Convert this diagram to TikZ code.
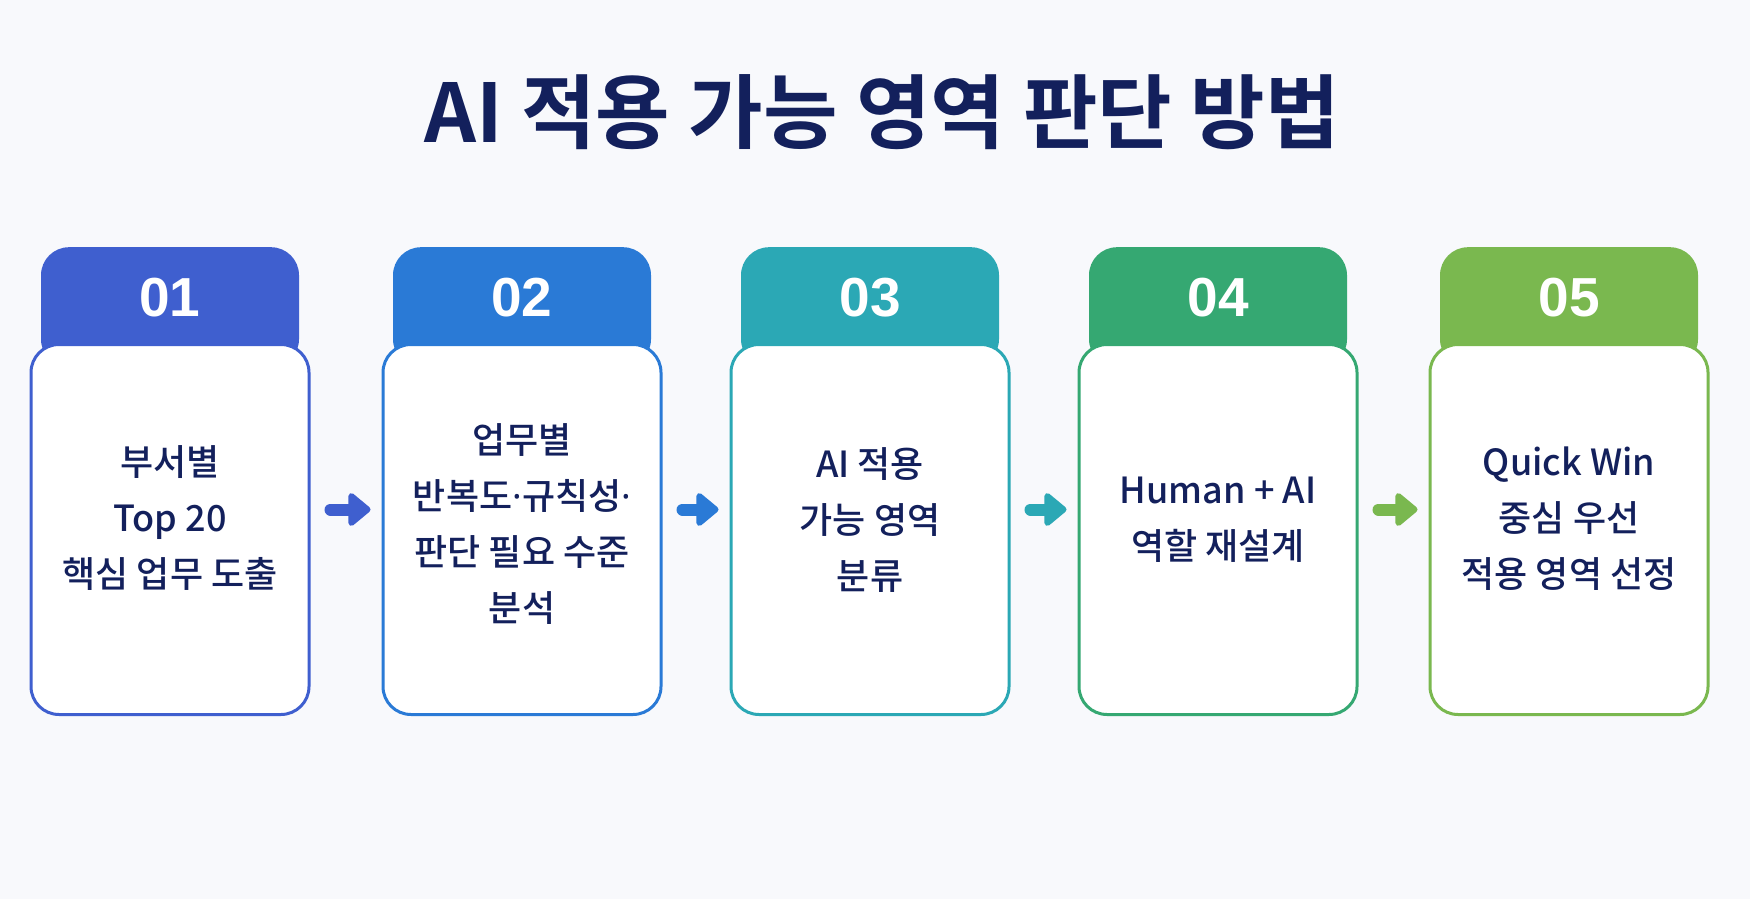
\documentclass[tikz,border=0pt]{standalone}
\usepackage{fontspec}
\setmainfont{Noto Sans CJK KR}[UprightFont={* Medium},BoldFont={* Bold}]
\newfontfamily\latinf{Noto Sans}
\newfontfamily\numf{Liberation Sans}
\usetikzlibrary{arrows.meta,calc}
\definecolor{bgc}{HTML}{F8F9FC}
\definecolor{navy}{HTML}{13205C}
\definecolor{cA}{HTML}{3F5FCF}
\definecolor{cB}{HTML}{2A7AD6}
\definecolor{cC}{HTML}{2BA8B5}
\definecolor{cD}{HTML}{35A872}
\definecolor{cE}{HTML}{7AB84F}
\newcommand{\mdot}{{\latinf\bfseries ·}}
\tikzset{
  tabbox/.style={fill=#1, draw=none, rounded corners=28pt, minimum width=258pt, minimum height=120pt, anchor=north, inner sep=0pt},
  numtext/.style={text=white, font=\numf\bfseries\fontsize{55}{60}\selectfont},
  cardbox/.style={draw=#1, line width=3pt, fill=white, rounded corners=28pt, minimum width=278pt, minimum height=370pt, anchor=north, inner sep=0pt},
  cardtext/.style={text=navy, align=center, font=\fontsize{36}{56}\selectfont},
  flowarrow/.style={draw=#1, line width=12pt, line cap=round, -{Triangle[width=38pt,length=24pt,round]}}
}
\begin{document}
\begin{tikzpicture}[x=1pt,y=-1pt]
\fill[bgc] (0,0) rectangle (1750,899);
\useasboundingbox (0,0) rectangle (1750,899);
\node[text=navy, font=\bfseries\fontsize{81}{84}\selectfont] (title) at (882,112) {AI 적용 가능 영역 판단 방법};

\node[tabbox=cA] (t1) at (170,247) {};
\node[tabbox=cB] (t2) at (522,247) {};
\node[tabbox=cC] (t3) at (870,247) {};
\node[tabbox=cD] (t4) at (1218,247) {};
\node[tabbox=cE] (t5) at (1569,247) {};

\node[numtext] (n1) at (170,298) {01};
\node[numtext] (n2) at (522,298) {02};
\node[numtext] (n3) at (870,298) {03};
\node[numtext] (n4) at (1218,298) {04};
\node[numtext] (n5) at (1569,298) {05};

\node[cardbox=cA] (c1) at (170,343) {};
\node[cardbox=cB] (c2) at (522,343) {};
\node[cardbox=cC] (c3) at (870,343) {};
\node[cardbox=cD] (c4) at (1218,343) {};
\node[cardbox=cE] (c5) at (1569,343) {};

\node[cardtext] (x1) at (170,518) {부서별\\Top 20\\핵심 업무 도출};
\node[cardtext] (x2) at (522,524) {업무별\\반복도\mdot 규칙성\mdot\\판단 필요 수준\\분석};
\node[cardtext] (x3) at (870,520) {AI 적용\\가능 영역\\분류};
\node[cardtext] (x4) at (1218,520) {Human + AI\\역할 재설계};
\node[cardtext] (x5) at (1569,519) {Quick Win\\중심 우선\\적용 영역 선정};

\draw[flowarrow=cA] ($(c1.east)+(20,-20)$) -- ($(c2.west)+(-11,-20)$);
\draw[flowarrow=cB] ($(c2.east)+(20,-20)$) -- ($(c3.west)+(-11,-20)$);
\draw[flowarrow=cC] ($(c3.east)+(20,-20)$) -- ($(c4.west)+(-11,-20)$);
\draw[flowarrow=cE] ($(c4.east)+(20,-20)$) -- ($(c5.west)+(-11,-20)$);
\end{tikzpicture}
\end{document}
